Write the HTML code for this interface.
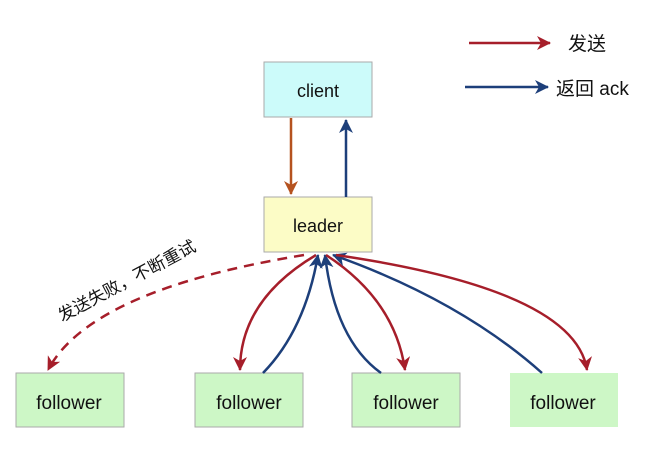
<!DOCTYPE html>
<html><head><style>
body{margin:0;background:#fff;width:651px;height:447px;overflow:hidden}
svg text{font-family:"Liberation Sans","Noto Sans CJK SC",sans-serif;fill:#111}
</style></head><body>
<svg width="651" height="447" viewBox="0 0 651 447">
<defs>
<marker id="r" markerWidth="14" markerHeight="14" refX="13" refY="7" orient="auto" markerUnits="userSpaceOnUse"><path d="M0,0 L14,7 L0,14 L4,7z" fill="#a61e2a"/></marker>
<marker id="b" markerWidth="14" markerHeight="14" refX="13" refY="7" orient="auto" markerUnits="userSpaceOnUse"><path d="M0,0 L14,7 L0,14 L4,7z" fill="#1d3f7a"/></marker>
<marker id="o" markerWidth="14" markerHeight="14" refX="13" refY="7" orient="auto" markerUnits="userSpaceOnUse"><path d="M0,0 L14,7 L0,14 L4,7z" fill="#b5521f"/></marker>
</defs>
<rect x="264" y="62" width="108" height="55" fill="#ccfbfa" stroke="#aaa"/>
<text x="318" y="97" font-size="18" text-anchor="middle">client</text>
<rect x="264" y="197" width="108" height="55" fill="#fcfcc6" stroke="#aaa"/>
<text x="318" y="232" font-size="18" text-anchor="middle">leader</text>
<g fill="#cdf7c6" stroke="#aaa">
<rect x="16" y="373" width="108" height="54"/><rect x="195" y="373" width="108" height="54"/>
<rect x="352" y="373" width="108" height="54"/><rect x="510" y="373" width="108" height="54" stroke="none"/>
</g>
<g font-size="19" text-anchor="middle">
<text x="69" y="409">follower</text><text x="249" y="409">follower</text>
<text x="406" y="409">follower</text><text x="563" y="409">follower</text>
</g>
<line x1="291" y1="118" x2="291" y2="194" stroke="#b5521f" stroke-width="2.5" marker-end="url(#o)"/>
<line x1="346" y1="197" x2="346" y2="120" stroke="#1d3f7a" stroke-width="2.5" marker-end="url(#b)"/>
<line x1="469" y1="43" x2="550" y2="43" stroke="#a61e2a" stroke-width="2.5" marker-end="url(#r)"/>
<text x="568" y="50" font-size="19">发送</text>
<line x1="465" y1="87" x2="548" y2="87" stroke="#1d3f7a" stroke-width="2.5" marker-end="url(#b)"/>
<text x="556" y="95" font-size="19">返回 ack</text>
<g fill="none" stroke-width="2.5">
<path d="M304,255 Q90,290 48,370" stroke="#a61e2a" stroke-dasharray="10,7" marker-end="url(#r)"/>
<path d="M316,255 Q240,300 240,370" stroke="#a61e2a" marker-end="url(#r)"/>
<path d="M263,373 Q305,330 318,255" stroke="#1d3f7a" marker-end="url(#b)"/>
<path d="M381,373 Q335,340 325,255" stroke="#1d3f7a" marker-end="url(#b)"/>
<path d="M326,255 Q395,300 405,370" stroke="#a61e2a" marker-end="url(#r)"/>
<path d="M542,373 Q460,300 333,255" stroke="#1d3f7a" marker-end="url(#b)"/>
<path d="M336,255 Q575,290 587,370" stroke="#a61e2a" marker-end="url(#r)"/>
</g>
<text font-size="17" transform="translate(62,322) rotate(-28)">发送失败，不断重试</text>
</svg>
</body></html>
